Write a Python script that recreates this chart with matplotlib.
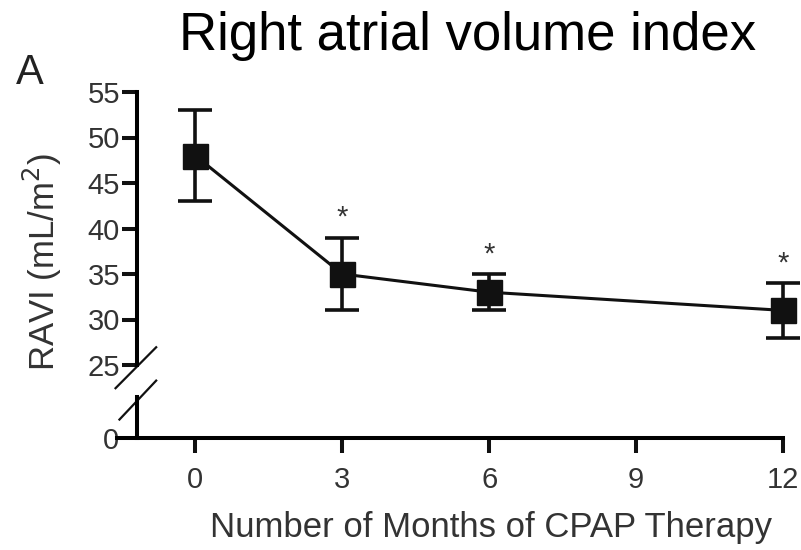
import matplotlib.pyplot as plt

plt.rcParams['font.family'] = ['Liberation Sans', 'DejaVu Sans']

months = [0, 3, 6, 12]
ravi = [48, 35, 33, 31]
errLow = [5, 4, 2, 3]
errHigh = [5, 4, 2, 3]
signif = [False, True, True, True]

xTicks = [0, 3, 6, 9, 12]
yTicksTop = [25, 30, 35, 40, 45, 50, 55]

fig = plt.figure(figsize=(8.01, 5.5), dpi=100)
left = 117 / 801
width = (783 - 117) / 801
axTop = fig.add_axes([left, 1 - 365 / 550, width, (365 - 92) / 550])
axBot = fig.add_axes([left, 1 - 438 / 550, width, (438 - 397) / 550])

lw = 2.9
for ax in (axTop, axBot):
    ax.set_xlim(-1.6, 12)
    ax.spines['top'].set_visible(False)
    ax.spines['right'].set_visible(False)
    ax.spines['left'].set_position(('data', -1.2))
    ax.spines['left'].set_linewidth(lw)
    ax.spines['bottom'].set_linewidth(lw)
    ax.patch.set_alpha(0)
    ax.tick_params(axis='y', length=11, width=lw, labelsize=21, pad=1, colors='#111111')
    ax.tick_params(axis='y', labelcolor='#333333')

axTop.spines['bottom'].set_visible(False)
axTop.set_ylim(25, 55)
axTop.set_yticks(yTicksTop)
axTop.set_xticks([])

axBot.set_ylim(0, 4.5)
axBot.set_yticks([0])
axBot.set_xticks(xTicks)
axBot.spines['left'].set_bounds(0, 4.5)
axBot.tick_params(axis='y', length=0, pad=13)
axBot.tick_params(axis='x', length=11, width=lw, labelsize=21, pad=9,
                  colors='#111111', labelcolor='#333333')

axTop.errorbar(months, ravi, yerr=[errLow, errHigh], fmt='s-', color='#111111',
               lw=2.2, elinewidth=2.6, capsize=12, capthick=2.6,
               markersize=18, clip_on=False, zorder=3)

for x, y, e, s in zip(months, ravi, errHigh, signif):
    if s:
        axTop.annotate('*', (x, y + e), xytext=(0, 4), textcoords='offset points',
                       ha='center', va='bottom', fontsize=21, color='#333333')

# axis break marks
axTop.plot([-1.63, -0.8], [-0.085, 0.065], transform=axTop.get_xaxis_transform(),
           color='#111111', lw=1.6, clip_on=False)
axBot.plot([-1.55, -0.8], [0.45, 1.4], transform=axBot.get_xaxis_transform(),
           color='#111111', lw=1.6, clip_on=False)

fig.text(468 / 801, 1 - 36 / 550, 'Right atrial volume index', ha='center', va='center',
         fontsize=38)
fig.text(30 / 801, 1 - 73 / 550, 'A', ha='center', va='center', fontsize=30, color='#222222')
fig.text(42 / 801, 1 - 262 / 550, 'RAVI (mL/m$^2$)', ha='center', va='center',
         rotation=90, fontsize=25, color='#333333')
fig.text(491 / 801, 1 - 527 / 550, 'Number of Months of CPAP Therapy', ha='center',
         va='center', fontsize=25, color='#333333')

fig.savefig('out.png', dpi=100)
